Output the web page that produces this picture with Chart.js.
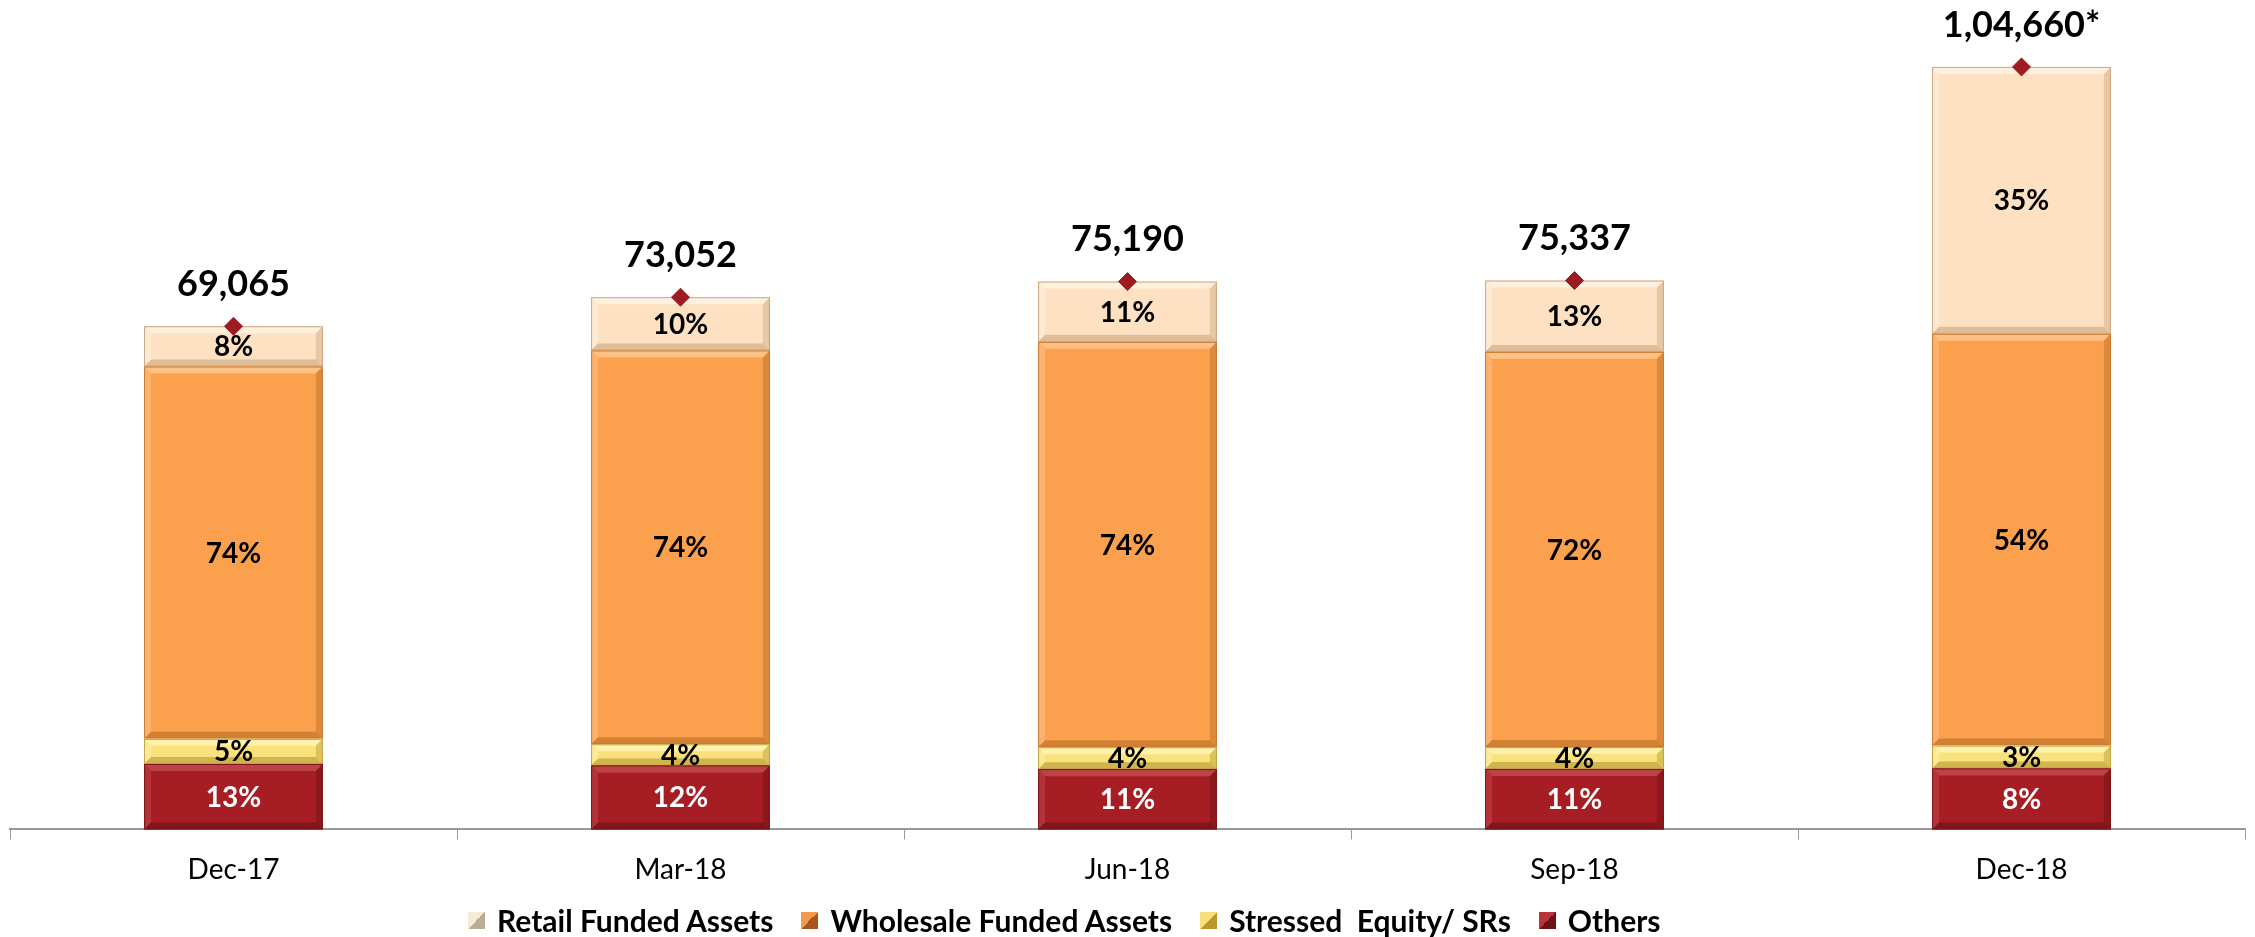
<!DOCTYPE html>
<html>
<head>
<meta charset="utf-8">
<script src="https://cdn.jsdelivr.net/npm/chart.js@4.4.1/dist/chart.umd.min.js"></script>
<style>
  html, body { margin: 0; padding: 0; background: #fff; }
  #wrap { width: 2255px; height: 937px; position: relative; }
  #legend {
    position: absolute; left: 468px; top: 902px; height: 36px;
    display: flex; align-items: center; gap: 28px;
    font: bold 30px Lato, "Open Sans", sans-serif; color: #000; white-space: pre;
  }
  #legend .item { display: flex; align-items: center; gap: 12px; }
  #legend .box { width: 17px; height: 17px; }
</style>
</head>
<body>
<div id="wrap"><canvas id="chart"></canvas><div id="legend"></div></div>
<script>
// Assets under management by quarter (Rs. crore) and mix in %
const categories = ['Dec-17', 'Mar-18', 'Jun-18', 'Sep-18', 'Dec-18'];
const totals = [69065, 73052, 75190, 75337, 104660];
const totalLabels = ['69,065', '73,052', '75,190', '75,337', '1,04,660*'];
const retailPct = [8, 10, 11, 13, 35];
const wholesalePct = [74, 74, 74, 72, 54];
const stressedPct = [5, 4, 4, 4, 3];
const othersPct = [13, 12, 11, 11, 8];

const FONT = 'Lato, "Open Sans", sans-serif';

// segment value = total * share
const seg = (pct) => pct.map((p, i) => totals[i] * p / 100);

// bottom-up stacking order; the legend lists them top-down
const series = [
  { label: 'Others', pct: othersPct, color: '#A61E24', border: '#7E1519', text: '#fff', light: '#C0474C', dark: '#7A1418' },
  { label: 'Stressed  Equity/ SRs', pct: stressedPct, color: '#F9E27C', border: '#BFA443', text: '#000', light: '#FFF2B0', dark: '#C9AB45' },
  { label: 'Wholesale Funded Assets', pct: wholesalePct, color: '#FBA14E', border: '#C77A33', text: '#000', light: '#FDC38C', dark: '#C97A30' },
  { label: 'Retail Funded Assets', pct: retailPct, color: '#FDE1C2', border: '#C9A883', text: '#000', light: '#FFF2E3', dark: '#D9B690' },
];

// soft bevel on every bar segment, like the office "3D" fill
const bevelPlugin = {
  id: 'bevel',
  afterDatasetDraw(chart, args) {
    const s = series[args.index];
    if (!s) return;
    const ctx = chart.ctx;
    ctx.save();
    args.meta.data.forEach((bar) => {
      const l = bar.x - bar.width / 2, r = bar.x + bar.width / 2;
      const t = Math.min(bar.y, bar.base), b = Math.max(bar.y, bar.base);
      const d = Math.min(7, (b - t) / 2 - 1);
      if (d <= 0) return;
      const poly = (pts, c, a) => {
        ctx.globalAlpha = a;
        ctx.fillStyle = c;
        ctx.beginPath();
        pts.forEach(([x, y], k) => (k ? ctx.lineTo(x, y) : ctx.moveTo(x, y)));
        ctx.closePath();
        ctx.fill();
      };
      poly([[l, t], [r, t], [r - d, t + d], [l + d, t + d]], s.light, 0.9);
      poly([[l, t], [l + d, t + d], [l + d, b - d], [l, b]], s.light, 0.5);
      poly([[r, t], [r, b], [r - d, b - d], [r - d, t + d]], s.dark, 0.6);
      poly([[l, b], [l + d, b - d], [r - d, b - d], [r, b]], s.dark, 0.85);
      ctx.globalAlpha = 1;
      ctx.strokeStyle = s.border;
      ctx.lineWidth = 1;
      ctx.strokeRect(l + 0.5, t + 0.5, r - l - 1, b - t - 1);
    });
    ctx.restore();
  },
};

const labelPlugin = {
  id: 'segLabels',
  afterDraw(chart) {
    const ctx = chart.ctx;
    ctx.save();
    ctx.textAlign = 'center';
    ctx.textBaseline = 'middle';
    series.forEach((s, di) => {
      chart.getDatasetMeta(di).data.forEach((bar, i) => {
        ctx.fillStyle = s.text;
        ctx.font = 'bold 28px ' + FONT;
        ctx.fillText(s.pct[i] + '%', bar.x, (bar.y + bar.base) / 2 + 1);
      });
    });
    chart.getDatasetMeta(series.length).data.forEach((p, i) => {
      ctx.fillStyle = '#000';
      ctx.font = 'bold 36px ' + FONT;
      ctx.fillText(totalLabels[i], p.x, p.y - 42);
    });
    ctx.restore();
  },
};

const datasets = series.map((s) => ({
  type: 'bar',
  label: s.label,
  data: seg(s.pct),
  backgroundColor: s.color,
  borderWidth: 0,
  barPercentage: 0.4,
  categoryPercentage: 1,
  stack: 'aum',
  order: 1,
}));

datasets.push({
  type: 'line',
  label: 'Total',
  data: totals,
  showLine: false,
  pointStyle: 'rectRot',
  pointRadius: 9,
  pointBackgroundColor: '#9E1B22',
  pointBorderColor: '#9E1B22',
  stack: 'total',
  order: 0,
});

new Chart(document.getElementById('chart'), {
  data: { labels: categories, datasets },
  plugins: [bevelPlugin, labelPlugin],
  options: {
    responsive: true,
    maintainAspectRatio: false,
    animation: false,
    layout: { padding: { top: 20, left: 10, right: 5, bottom: 36 } },
    plugins: {
      tooltip: { enabled: false },
      legend: { display: false },
    },
    scales: {
      x: {
        stacked: true,
        grid: { display: true, drawOnChartArea: false, drawTicks: true, tickLength: 10, color: '#999', offset: true },
        border: { display: true, color: '#999', width: 2 },
        ticks: { color: '#000', font: { family: FONT, size: 28 }, padding: 14 },
      },
      y: {
        stacked: true,
        display: false,
        min: 0,
        max: 111100,
      },
    },
  },
});

// legend, top-down like the stack
const legendEl = document.getElementById('legend');
const shade = { 'Retail Funded Assets': ['#F3EBD6', '#B9AE90'], 'Wholesale Funded Assets': ['#F59A4C', '#A9561E'],
  'Stressed  Equity/ SRs': ['#F7DE7A', '#B9962E'], 'Others': ['#B8343A', '#6E1216'] };
series.slice().reverse().forEach((s) => {
  const [lt, dk] = shade[s.label];
  const item = document.createElement('div');
  item.className = 'item';
  const box = document.createElement('span');
  box.className = 'box';
  box.style.background = `conic-gradient(from -45deg, ${lt} 0 90deg, ${dk} 90deg 180deg, ${dk} 180deg 270deg, ${lt} 270deg 360deg)`;
  const txt = document.createElement('span');
  txt.textContent = s.label;
  item.append(box, txt);
  legendEl.append(item);
});
</script>
</body>
</html>
